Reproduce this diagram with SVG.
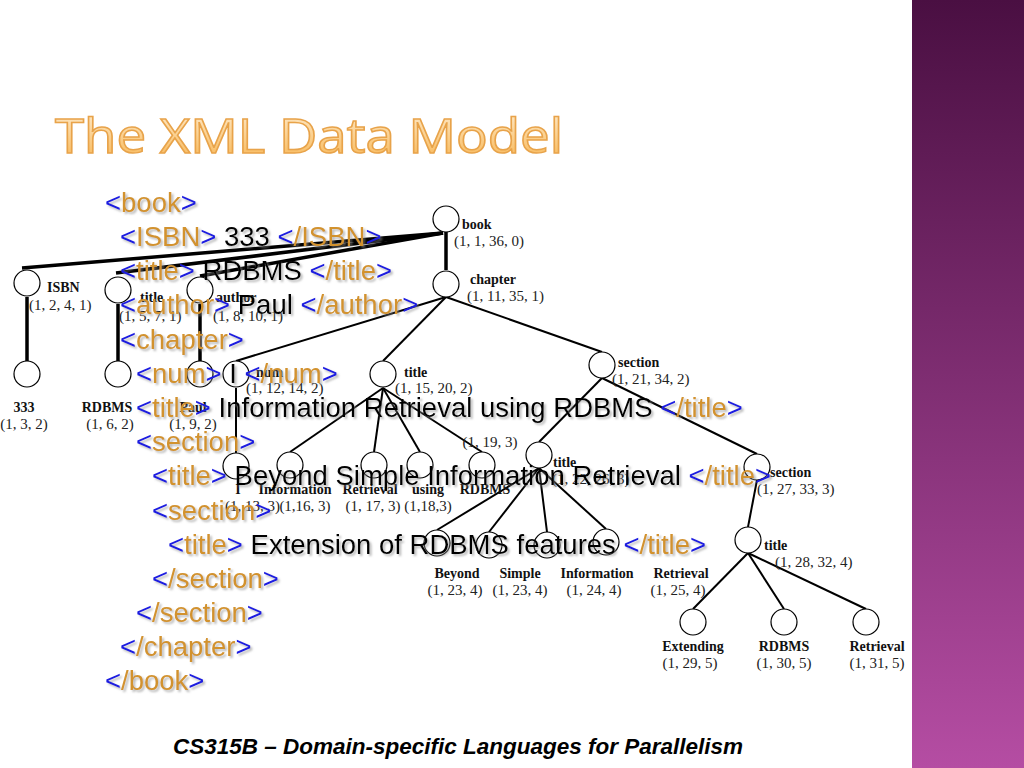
<svg xmlns="http://www.w3.org/2000/svg" width="1024" height="768" viewBox="0 0 1024 768">
<defs>
<linearGradient id="bar" x1="0" y1="0" x2="0" y2="1"><stop offset="0" stop-color="#4a0f42"/><stop offset="1" stop-color="#b54da3"/></linearGradient>
<linearGradient id="tg" x1="0" y1="0" x2="0" y2="1"><stop offset="0" stop-color="#fff2dc"/><stop offset="1" stop-color="#f7b24a"/></linearGradient>
<filter id="sh"><feDropShadow dx="2" dy="2" stdDeviation="1" flood-color="#888" flood-opacity="0.6"/></filter>
</defs>
<style>
.n circle{fill:#fff;stroke:#000;stroke-width:1.2}
.lb{font-family:"Liberation Serif",serif;font-size:14px;font-weight:bold;fill:#111}
.co{font-family:"Liberation Serif",serif;font-size:15px;fill:#222}
.e line{stroke:#000;stroke-width:2}
.e .t{stroke-width:3.5}
.x{font-family:"Liberation Sans",Arial,sans-serif;font-size:27.5px;filter:url(#sh)}
.b{fill:#1a1ae0}.g{fill:#d2922e}.k{fill:#000}
</style>
<rect width="1024" height="768" fill="#fff"/>
<rect x="912" y="0" width="112" height="768" fill="url(#bar)"/>
<text x="55" y="153" font-family="Open Sans,'DejaVu Sans',sans-serif" font-size="48" fill="url(#tg)" stroke="#e8a34a" stroke-width="1.5" textLength="508" lengthAdjust="spacingAndGlyphs">The XML Data Model</text>
<g class="e" id="connectors">
<line class="t" x1="443" y1="233" x2="22" y2="268"/>
<line class="t" x1="443" y1="233" x2="116" y2="273"/>
<line class="t" x1="443" y1="233" x2="200" y2="276"/>
<line class="t" x1="446" y1="232" x2="446" y2="270"/>
<line class="t" x1="27" y1="297" x2="27" y2="361"/>
<line class="t" x1="118" y1="304" x2="118" y2="361"/>
<line class="t" x1="200" y1="304" x2="200" y2="361"/>
<line x1="446" y1="297" x2="236" y2="361"/>
<line x1="446" y1="297" x2="383" y2="361"/>
<line x1="446" y1="297" x2="602" y2="352"/>
<line x1="236" y1="388" x2="236" y2="453"/>
<line x1="383" y1="388" x2="290" y2="452"/>
<line x1="383" y1="388" x2="374" y2="452"/>
<line x1="383" y1="388" x2="420" y2="452"/>
<line x1="383" y1="388" x2="482" y2="452"/>
<line x1="602" y1="378" x2="539" y2="442"/>
<line x1="602" y1="378" x2="757" y2="454"/>
<line x1="539" y1="468" x2="437" y2="530"/>
<line x1="539" y1="468" x2="489" y2="532"/>
<line x1="539" y1="468" x2="547" y2="532"/>
<line x1="539" y1="468" x2="606" y2="529"/>
<line x1="757" y1="480" x2="748" y2="527"/>
<line x1="748" y1="553" x2="693" y2="609"/>
<line x1="748" y1="553" x2="784" y2="609"/>
<line x1="748" y1="553" x2="866" y2="609"/>
</g>
<g class="n" id="n-book"><circle cx="446" cy="219" r="13"/><text class="lb" x="462" y="229">book</text><text class="co" x="454" y="246">(1, 1, 36, 0)</text></g>
<g class="n" id="n-chapter"><circle cx="446" cy="284" r="13"/><text class="lb" x="470" y="284">chapter</text><text class="co" x="467" y="301">(1, 11, 35, 1)</text></g>
<g class="n" id="n-isbn"><circle cx="27" cy="283" r="13"/><text class="lb" x="47" y="292">ISBN</text><text class="co" x="29" y="310">(1, 2, 4, 1)</text></g>
<g class="n" id="n-title1"><circle cx="118" cy="290" r="13"/><text class="lb" x="140" y="302">title</text><text class="co" x="119" y="321">(1, 5, 7, 1)</text></g>
<g class="n" id="n-author"><circle cx="200" cy="290" r="13"/><text class="lb" x="216" y="302">author</text><text class="co" x="213" y="321">(1, 8, 10, 1)</text></g>
<g class="n" id="n-333"><circle cx="27" cy="374" r="13"/><text class="lb" x="24" y="412" text-anchor="middle">333</text><text class="co" x="24" y="429" text-anchor="middle">(1, 3, 2)</text></g>
<g class="n" id="n-rdbms1"><circle cx="118" cy="374" r="13"/><text class="lb" x="107" y="412" text-anchor="middle">RDBMS</text><text class="co" x="110" y="429" text-anchor="middle">(1, 6, 2)</text></g>
<g class="n" id="n-paul"><circle cx="200" cy="374" r="13"/><text class="lb" x="193" y="412" text-anchor="middle">Paul</text><text class="co" x="193" y="429" text-anchor="middle">(1, 9, 2)</text></g>
<g class="n" id="n-num"><circle cx="236" cy="374" r="13"/><text class="lb" x="256" y="377">num</text><text class="co" x="246" y="393">(1, 12, 14, 2)</text></g>
<g class="n" id="n-title2"><circle cx="383" cy="374" r="13"/><text class="lb" x="404" y="377">title</text><text class="co" x="395" y="393">(1, 15, 20, 2)</text></g>
<g class="n" id="n-section1"><circle cx="602" cy="365" r="13"/><text class="lb" x="618" y="367">section</text><text class="co" x="612" y="384">(1, 21, 34, 2)</text></g>
<g class="n" id="n-i"><circle cx="236" cy="466" r="13"/><text class="lb" x="238" y="494" text-anchor="middle">I</text><text class="co" x="225" y="511">(1, 13, 3)</text></g>
<g class="n" id="n-info1"><circle cx="290" cy="465" r="13"/><text class="lb" x="295" y="494" text-anchor="middle">Information</text><text class="co" x="305" y="511" text-anchor="middle">(1,16, 3)</text></g>
<g class="n" id="n-retr1"><circle cx="374" cy="465" r="13"/><text class="lb" x="370" y="494" text-anchor="middle">Retrieval</text><text class="co" x="373" y="511" text-anchor="middle">(1, 17, 3)</text></g>
<g class="n" id="n-using"><circle cx="420" cy="465" r="13"/><text class="lb" x="428" y="494" text-anchor="middle">using</text><text class="co" x="428" y="511" text-anchor="middle">(1,18,3)</text></g>
<g class="n" id="n-rdbms2"><circle cx="482" cy="465" r="13"/><text class="lb" x="485" y="494" text-anchor="middle">RDBMS</text><text class="co" x="490" y="447" text-anchor="middle">(1, 19, 3)</text></g>
<g class="n" id="n-title3"><circle cx="539" cy="455" r="13"/><text class="lb" x="553" y="467">title</text><text class="co" x="552" y="484">(1, 22, 26, 3)</text></g>
<g class="n" id="n-section2"><circle cx="757" cy="467" r="13"/><text class="lb" x="770" y="477">section</text><text class="co" x="757" y="494">(1, 27, 33, 3)</text></g>
<g class="n" id="n-beyond"><circle cx="437" cy="543" r="13"/><text class="lb" x="457" y="578" text-anchor="middle">Beyond</text><text class="co" x="455" y="595" text-anchor="middle">(1, 23, 4)</text></g>
<g class="n" id="n-simple"><circle cx="489" cy="545" r="13"/><text class="lb" x="520" y="578" text-anchor="middle">Simple</text><text class="co" x="520" y="595" text-anchor="middle">(1, 23, 4)</text></g>
<g class="n" id="n-info2"><circle cx="547" cy="545" r="13"/><text class="lb" x="597" y="578" text-anchor="middle">Information</text><text class="co" x="594" y="595" text-anchor="middle">(1, 24, 4)</text></g>
<g class="n" id="n-retr2"><circle cx="606" cy="542" r="13"/><text class="lb" x="681" y="578" text-anchor="middle">Retrieval</text><text class="co" x="678" y="595" text-anchor="middle">(1, 25, 4)</text></g>
<g class="n" id="n-title4"><circle cx="748" cy="540" r="13"/><text class="lb" x="764" y="550">title</text><text class="co" x="775" y="567">(1, 28, 32, 4)</text></g>
<g class="n" id="n-ext"><circle cx="693" cy="622" r="13"/><text class="lb" x="693" y="651" text-anchor="middle">Extending</text><text class="co" x="690" y="668" text-anchor="middle">(1, 29, 5)</text></g>
<g class="n" id="n-rdbms3"><circle cx="784" cy="622" r="13"/><text class="lb" x="784" y="651" text-anchor="middle">RDBMS</text><text class="co" x="784" y="668" text-anchor="middle">(1, 30, 5)</text></g>
<g class="n" id="n-retr3"><circle cx="866" cy="622" r="13"/><text class="lb" x="877" y="651" text-anchor="middle">Retrieval</text><text class="co" x="877" y="668" text-anchor="middle">(1, 31, 5)</text></g>
<g id="xml">
<text class="x" x="105" y="212"><tspan class="b">&lt;</tspan><tspan class="g">book</tspan><tspan class="b">&gt;</tspan></text>
<text class="x" x="120" y="246"><tspan class="b">&lt;</tspan><tspan class="g">ISBN</tspan><tspan class="b">&gt;</tspan><tspan class="k"> 333 </tspan><tspan class="b">&lt;</tspan><tspan class="g">/ISBN</tspan><tspan class="b">&gt;</tspan></text>
<text class="x" x="120" y="280"><tspan class="b">&lt;</tspan><tspan class="g">title</tspan><tspan class="b">&gt;</tspan><tspan class="k"> RDBMS </tspan><tspan class="b">&lt;</tspan><tspan class="g">/title</tspan><tspan class="b">&gt;</tspan></text>
<text class="x" x="120" y="314"><tspan class="b">&lt;</tspan><tspan class="g">author</tspan><tspan class="b">&gt;</tspan><tspan class="k"> Paul </tspan><tspan class="b">&lt;</tspan><tspan class="g">/author</tspan><tspan class="b">&gt;</tspan></text>
<text class="x" x="120" y="349"><tspan class="b">&lt;</tspan><tspan class="g">chapter</tspan><tspan class="b">&gt;</tspan></text>
<text class="x" x="136" y="383"><tspan class="b">&lt;</tspan><tspan class="g">num</tspan><tspan class="b">&gt;</tspan><tspan class="k"> I </tspan><tspan class="b">&lt;</tspan><tspan class="g">/num</tspan><tspan class="b">&gt;</tspan></text>
<text class="x" x="136" y="417"><tspan class="b">&lt;</tspan><tspan class="g">title</tspan><tspan class="b">&gt;</tspan><tspan class="k"> Information Retrieval using RDBMS </tspan><tspan class="b">&lt;</tspan><tspan class="g">/title</tspan><tspan class="b">&gt;</tspan></text>
<text class="x" x="136" y="451"><tspan class="b">&lt;</tspan><tspan class="g">section</tspan><tspan class="b">&gt;</tspan></text>
<text class="x" x="152" y="485"><tspan class="b">&lt;</tspan><tspan class="g">title</tspan><tspan class="b">&gt;</tspan><tspan class="k"> Beyond Simple Information Retrieval </tspan><tspan class="b">&lt;</tspan><tspan class="g">/title</tspan><tspan class="b">&gt;</tspan></text>
<text class="x" x="152" y="520"><tspan class="b">&lt;</tspan><tspan class="g">section</tspan><tspan class="b">&gt;</tspan></text>
<text class="x" x="168" y="554"><tspan class="b">&lt;</tspan><tspan class="g">title</tspan><tspan class="b">&gt;</tspan><tspan class="k"> Extension of RDBMS features </tspan><tspan class="b">&lt;</tspan><tspan class="g">/title</tspan><tspan class="b">&gt;</tspan></text>
<text class="x" x="152" y="588"><tspan class="b">&lt;</tspan><tspan class="g">/section</tspan><tspan class="b">&gt;</tspan></text>
<text class="x" x="136" y="622"><tspan class="b">&lt;</tspan><tspan class="g">/section</tspan><tspan class="b">&gt;</tspan></text>
<text class="x" x="120" y="656"><tspan class="b">&lt;</tspan><tspan class="g">/chapter</tspan><tspan class="b">&gt;</tspan></text>
<text class="x" x="105" y="690"><tspan class="b">&lt;</tspan><tspan class="g">/book</tspan><tspan class="b">&gt;</tspan></text>
</g>
<text x="458" y="754" text-anchor="middle" font-family="Liberation Sans,Arial,sans-serif" font-size="22.5" font-weight="bold" font-style="italic" fill="#000">CS315B – Domain-specific Languages for Parallelism</text>
</svg>
